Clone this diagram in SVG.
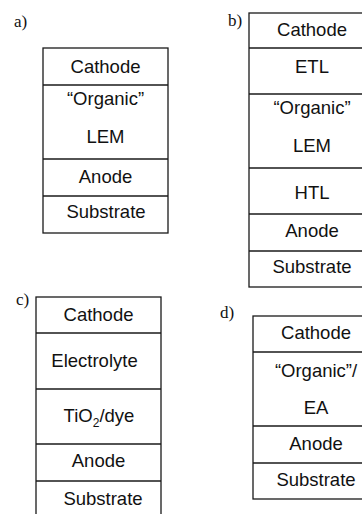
<svg xmlns="http://www.w3.org/2000/svg" width="362" height="514" viewBox="0 0 362 514">
<style>
.box{fill:#fff;stroke:#1a1a1a;stroke-width:1.3}
.ln{stroke:#1a1a1a;stroke-width:1.3}
.t{font-family:"Liberation Sans",Arial,sans-serif;font-size:18.5px;fill:#111;text-anchor:middle}
.lab{font-family:"Liberation Serif","Times New Roman",serif;font-size:17px;fill:#111}
</style>
<rect width="362" height="514" fill="#fff"/>
<g id="panel-a">
<text class="lab" x="14" y="27">a)</text>
<rect class="box" x="43" y="48" width="125" height="185"/>
<line class="ln" x1="43" y1="85" x2="168" y2="85"/>
<line class="ln" x1="43" y1="159" x2="168" y2="159"/>
<line class="ln" x1="43" y1="196" x2="168" y2="196"/>
<text class="t" x="105.5" y="73">Cathode</text>
<text class="t" x="105.5" y="105">“Organic”</text>
<text class="t" x="105.5" y="143">LEM</text>
<text class="t" x="105.5" y="183">Anode</text>
<text class="t" x="106" y="218">Substrate</text>
</g>
<g id="panel-b">
<text class="lab" x="228" y="26">b)</text>
<rect class="box" x="249" y="13" width="125" height="274"/>
<line class="ln" x1="249" y1="48" x2="374" y2="48"/>
<line class="ln" x1="249" y1="94" x2="374" y2="94"/>
<line class="ln" x1="249" y1="168" x2="374" y2="168"/>
<line class="ln" x1="249" y1="214" x2="374" y2="214"/>
<line class="ln" x1="249" y1="251" x2="374" y2="251"/>
<text class="t" x="312" y="36">Cathode</text>
<text class="t" x="312" y="73">ETL</text>
<text class="t" x="312" y="114">“Organic”</text>
<text class="t" x="312" y="152">LEM</text>
<text class="t" x="312" y="199">HTL</text>
<text class="t" x="312" y="237">Anode</text>
<text class="t" x="312" y="273">Substrate</text>
</g>
<g id="panel-c">
<text class="lab" x="16" y="305">c)</text>
<rect class="box" x="36" y="297" width="125" height="230"/>
<line class="ln" x1="36" y1="333" x2="161" y2="333"/>
<line class="ln" x1="36" y1="389" x2="161" y2="389"/>
<line class="ln" x1="36" y1="444" x2="161" y2="444"/>
<line class="ln" x1="36" y1="481" x2="161" y2="481"/>
<text class="t" x="98.5" y="321">Cathode</text>
<text class="t" x="94.5" y="367">Electrolyte</text>
<text class="t" x="99" y="422">TiO<tspan font-size="12" dy="5">2</tspan><tspan dy="-5">/dye</tspan></text>
<text class="t" x="98.5" y="467">Anode</text>
<text class="t" x="103" y="505">Substrate</text>
</g>
<g id="panel-d">
<text class="lab" x="220" y="318">d)</text>
<rect class="box" x="253" y="316" width="125" height="183"/>
<line class="ln" x1="253" y1="352" x2="378" y2="352"/>
<line class="ln" x1="253" y1="426" x2="378" y2="426"/>
<line class="ln" x1="253" y1="463" x2="378" y2="463"/>
<text class="t" x="316" y="339">Cathode</text>
<text class="t" x="316" y="377">“Organic”/</text>
<text class="t" x="316" y="414">EA</text>
<text class="t" x="316" y="450">Anode</text>
<text class="t" x="316" y="486">Substrate</text>
</g>
</svg>
